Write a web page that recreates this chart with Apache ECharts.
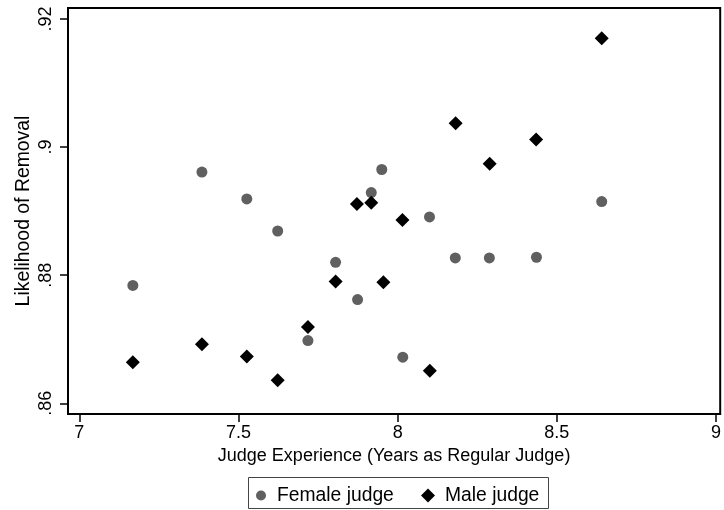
<!DOCTYPE html>
<html>
<head>
<meta charset="utf-8">
<script src="https://cdn.jsdelivr.net/npm/echarts@6/dist/echarts.min.js"></script>
<style>html,body{margin:0;padding:0;background:#fff}#c{width:724px;height:510px}</style>
</head>
<body>
<div id="c"></div>
<script>
// Data
const femaleX = [7.168, 7.385, 7.526, 7.623, 7.718, 7.805, 7.874, 7.917, 7.95, 8.016, 8.1, 8.181, 8.288, 8.436, 8.641];
const femaleY = [0.8784, 0.8961, 0.8919, 0.8869, 0.8698, 0.8820, 0.8762, 0.8929, 0.8965, 0.8672, 0.8891, 0.8827, 0.8827, 0.8828, 0.8915];
const maleX = [7.168, 7.385, 7.526, 7.623, 7.718, 7.805, 7.872, 7.917, 7.955, 8.015, 8.101, 8.182, 8.289, 8.435, 8.641];
const maleY = [0.8664, 0.8692, 0.8673, 0.8636, 0.8719, 0.8790, 0.8911, 0.8913, 0.8789, 0.8886, 0.8651, 0.9037, 0.8974, 0.9012, 0.9170];
const xTicks = [7, 7.5, 8, 8.5, 9];
const yTicks = [0.86, 0.88, 0.90, 0.92];
const yTickLabels = ['.86', '.88', '.9', '.92'];
const seriesNames = ['Female judge', 'Male judge'];
const xTitle = 'Judge Experience (Years as Regular Judge)';
const yTitle = 'Likelihood of Removal';

const FONT = 'Liberation Sans, Arial, Helvetica, sans-serif';
const pair = (xs, ys) => xs.map((x, i) => [x, ys[i]]);

const chart = echarts.init(document.getElementById('c'), null, {renderer: 'canvas'});
chart.setOption({
  animation: false,
  backgroundColor: '#fff',
  textStyle: {fontFamily: FONT},
  grid: {left: 68, top: 8, right: 2, bottom: 96, show: true, borderColor: '#000', borderWidth: 2, backgroundColor: '#fff'},
  xAxis: {
    type: 'value', min: 6.9643, max: 9.0132,
    name: xTitle, nameLocation: 'middle', nameGap: 27,
    nameTextStyle: {fontSize: 18, color: '#000', fontFamily: FONT},
    axisLine: {show: true, lineStyle: {color: '#000', width: 2}},
    axisTick: {show: true, length: 8, lineStyle: {color: '#000', width: 1.5}, customValues: xTicks},
    axisLabel: {show: true, customValues: xTicks, margin: 10, fontSize: 18, color: '#000', fontFamily: FONT,
      formatter: v => String(Math.round(v * 10) / 10)},
    splitLine: {show: false}
  },
  yAxis: {
    type: 'value', min: 0.85833, max: 0.92171,
    name: yTitle, nameLocation: 'middle', nameGap: 35, nameRotate: 90, nameMoveOverlap: false,
    nameTextStyle: {fontSize: 19.4, color: '#000', fontFamily: FONT},
    axisLine: {show: true, lineStyle: {color: '#000', width: 2}},
    axisTick: {show: true, length: 8, lineStyle: {color: '#000', width: 1.5}, customValues: yTicks},
    axisLabel: {show: true, customValues: yTicks, rotate: 90, margin: 13, fontSize: 18, color: '#000', fontFamily: FONT,
      formatter: v => { const i = yTicks.findIndex(t => Math.abs(t - v) < 1e-6); return i >= 0 ? yTickLabels[i] : ''; }},
    splitLine: {show: false}
  },
  legend: [
    {data: [seriesNames[0]], left: 256, top: 486, padding: 0, itemWidth: 10, itemHeight: 10, icon: 'circle',
      textStyle: {fontSize: 19.3, color: '#000', fontFamily: FONT, padding: [0, 0, 0, 6]}},
    {data: [seriesNames[1]], left: 421, top: 486, padding: 0, itemWidth: 14, itemHeight: 14, icon: 'diamond',
      textStyle: {fontSize: 19.3, color: '#000', fontFamily: FONT, padding: [0, 0, 0, 5]}}
  ],
  graphic: [{type: 'rect', shape: {x: 248.5, y: 477.5, width: 300, height: 31}, style: {fill: 'none', stroke: '#444', lineWidth: 1}, silent: true, z: -1}],
  series: [
    {name: seriesNames[0], type: 'scatter', symbol: 'circle', symbolSize: 11, data: pair(femaleX, femaleY),
      itemStyle: {color: '#606060', opacity: 1}},
    {name: seriesNames[1], type: 'scatter', symbol: 'diamond', symbolSize: 14, data: pair(maleX, maleY),
      itemStyle: {color: '#000', opacity: 1}}
  ]
});
</script>
</body>
</html>
